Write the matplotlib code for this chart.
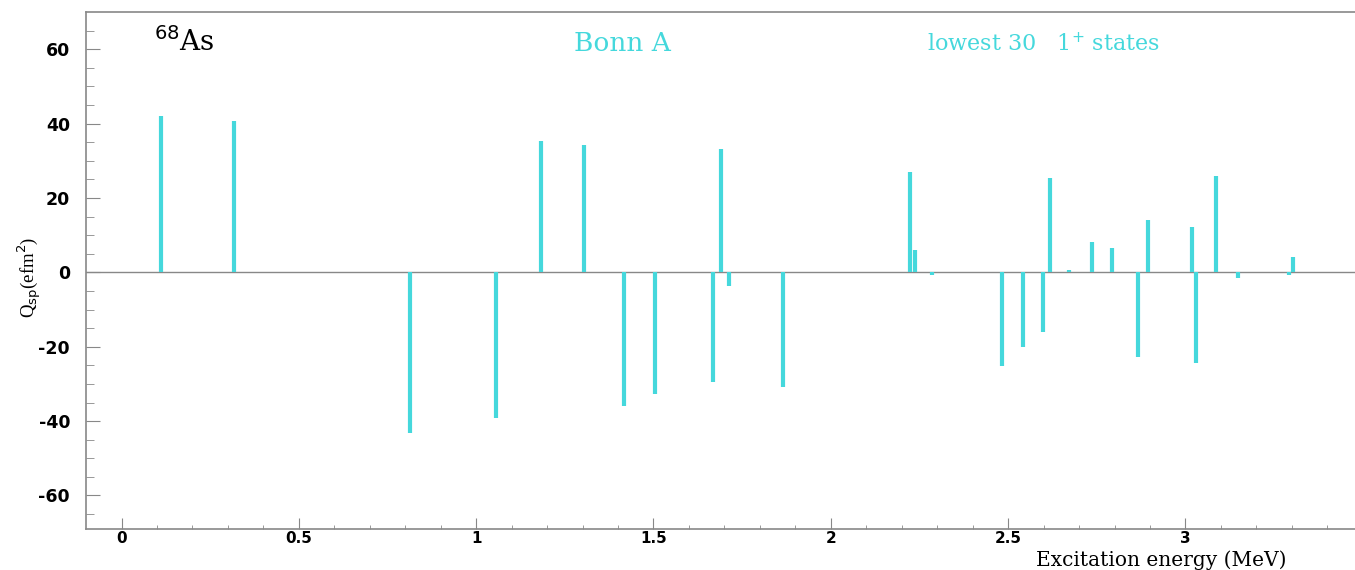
import matplotlib.pyplot as plt
import numpy as np

plt.rcParams["axes.unicode_minus"] = False

# Excitation energies (MeV) of the lowest 30 1+ states and their Q_sp (efm^2)
energies = [0.110, 0.317, 0.814, 1.057, 1.184, 1.304, 1.417, 1.503, 1.668, 1.690,
            1.713, 1.866, 2.223, 2.237, 2.284, 2.483, 2.543, 2.599, 2.618, 2.671,
            2.737, 2.792, 2.867, 2.893, 3.017, 3.031, 3.086, 3.149, 3.293, 3.304]
q_sp = [42.1, 40.8, -43.1, -39.3, 35.4, 34.1, -36.0, -32.6, -29.4, 33.2,
        -3.8, -30.8, 26.9, 5.9, -0.6, -25.2, -20.0, -16.0, 25.3, 0.5,
        8.1, 6.5, -22.7, 14.0, 12.3, -24.3, 25.8, -1.5, -0.6, 4.1]

x_ticks = [0, 0.5, 1, 1.5, 2, 2.5, 3]
x_tick_labels = ["0", "0.5", "1", "1.5", "2", "2.5", "3"]
y_ticks = [-60, -40, -20, 0, 20, 40, 60]

bar_color = "#45d8dc"
axis_gray = "#888888"

fig = plt.figure(figsize=(13.55, 5.70), dpi=100)
ax = fig.add_axes([0.0635, 0.072, 0.9365, 0.907])

ax.axhline(0, color=axis_gray, linewidth=1.0, zorder=1)
ax.vlines(energies, 0, q_sp, color=bar_color, linewidth=3.0, zorder=2)

ax.set_xlim(-0.1, 3.478)
ax.set_ylim(-69, 70)

ax.set_xticks(x_ticks)
ax.set_xticklabels(x_tick_labels)
ax.set_xticks(np.arange(0.1, 3.45, 0.1), minor=True)
ax.set_yticks(y_ticks)
ax.set_yticks(np.arange(-65, 70, 5), minor=True)

ax.tick_params(axis="both", which="both", direction="in", colors=axis_gray,
               labelcolor="black")
ax.tick_params(axis="y", which="major", length=10, pad=11.5)
ax.tick_params(axis="y", which="minor", length=6)
ax.tick_params(axis="x", which="major", length=8, pad=1.5)
ax.tick_params(axis="x", which="minor", length=3)
for lab in ax.get_yticklabels():
    lab.set_fontfamily("DejaVu Sans")
    lab.set_fontweight("bold")
    lab.set_fontsize(12.5)
for lab in ax.get_xticklabels():
    lab.set_fontfamily("DejaVu Sans")
    lab.set_fontweight("bold")
    lab.set_fontsize(11)

for side in ["left", "bottom", "top"]:
    ax.spines[side].set_color(axis_gray)
    ax.spines[side].set_linewidth(1.2)
ax.spines["right"].set_visible(False)

serif = "DejaVu Serif"
ax.text(0.093, 59.6, r"$^{68}$As", family=serif, fontsize=20, color="black",
        ha="left", va="baseline")
ax.text(1.413, 59.6, "Bonn A", family=serif, fontsize=19, color=bar_color,
        ha="center", va="baseline")
ax.text(2.598, 59.6, r"lowest 30   1$^{+}$ states", family=serif, fontsize=16,
        color=bar_color, ha="center", va="baseline")

ax.set_xlabel("Excitation energy (MeV)", family=serif, fontsize=14.5)
ax.xaxis.label.set_ha("right")
ax.xaxis.label.set_va("bottom")
ax.xaxis.set_label_coords(0.9457, -0.0785)
ax.set_ylabel(r"Q$_{\rm sp}$(efm$^2$)", family="Liberation Serif", fontsize=13.5)
ax.yaxis.label.set_va("center")
ax.yaxis.set_label_coords(-0.044, 0.487)

fig.savefig("out.png", dpi=100, facecolor="white")
